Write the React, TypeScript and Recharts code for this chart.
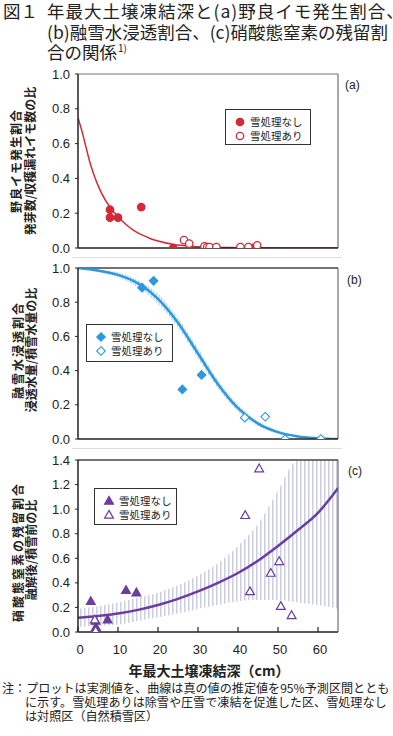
import React from "react"
import { Area, ComposedChart, Line, ReferenceLine, Scatter, XAxis, YAxis } from "recharts"

const jp = '"Noto Sans CJK JP", "Noto Sans", sans-serif'
const num = '"Liberation Sans", Arial, sans-serif'

const xTicks = [0, 10, 20, 30, 40, 50, 60]
const yTicksAB = [0, 0.2, 0.4, 0.6, 0.8, 1.0]
const yTicksC = [0, 0.2, 0.4, 0.6, 0.8, 1.0, 1.2, 1.4]

// (a) 野良イモ発生割合
const aNoneX = [8.0, 8.0, 10.0, 15.8, 23.8, 43.7]
const aNoneY = [0.22, 0.175, 0.175, 0.235, 0.0, 0.0]
const aTreatX = [26.5, 27.8, 31.6, 32.3, 32.9, 34.6, 40.6, 42.6, 44.8]
const aTreatY = [0.045, 0.025, 0.01, 0.005, 0.005, 0.005, 0.005, 0.005, 0.015]
const aCurveX = [0, 1, 2, 3, 4, 5, 6, 8, 10, 12, 14, 16, 18, 20, 24, 28, 32, 40, 50, 65]
const aCurveY = [0.75, 0.67, 0.58, 0.49, 0.42, 0.36, 0.31, 0.235, 0.18, 0.135, 0.1, 0.075, 0.055, 0.04, 0.02, 0.01, 0.005, 0.002, 0, 0]

// (b) 融雪水浸透割合
const bNoneX = [16.0, 18.9, 26.1, 30.9]
const bNoneY = [0.885, 0.925, 0.29, 0.375]
const bTreatX = [41.7, 46.8, 51.8, 60.7]
const bTreatY = [0.125, 0.13, 0.0, 0.0]
const bCurveX = [0, 5, 10, 15, 20, 25, 30, 35, 40, 45, 50, 55, 60, 65]
const bCurveY = [1.0, 0.985, 0.96, 0.91, 0.82, 0.68, 0.5, 0.32, 0.18, 0.09, 0.04, 0.015, 0.005, 0.0]
const bLow = [0.995, 0.975, 0.945, 0.885, 0.79, 0.65, 0.47, 0.295, 0.16, 0.075, 0.03, 0.008, 0.001, 0.0]
const bHigh = [1.0, 0.99, 0.975, 0.93, 0.85, 0.71, 0.53, 0.345, 0.2, 0.105, 0.05, 0.022, 0.009, 0.003]

// (c) 硝酸態窒素の残留割合
const cNoneX = [3.2, 4.4, 4.5, 7.4, 12.0, 14.6]
const cNoneY = [0.25, 0.09, 0.04, 0.1, 0.34, 0.32]
const cTreatX = [4.2, 4.4, 41.8, 43.0, 45.3, 48.2, 50.3, 50.7, 53.4]
const cTreatY = [0.1, 0.01, 0.95, 0.33, 1.33, 0.48, 0.575, 0.21, 0.135]
const cCurveX = [0, 5, 10, 15, 20, 25, 30, 35, 40, 45, 50, 55, 60, 65]
const cCurveY = [0.115, 0.13, 0.15, 0.18, 0.22, 0.27, 0.33, 0.4, 0.48, 0.58, 0.7, 0.83, 0.97, 1.17]
const cLow = [0.04, 0.05, 0.06, 0.09, 0.12, 0.15, 0.19, 0.22, 0.25, 0.26, 0.26, 0.24, 0.22, 0.19]
const cHigh = [0.19, 0.21, 0.24, 0.28, 0.32, 0.38, 0.46, 0.56, 0.7, 0.88, 1.15, 1.4, 1.4, 1.4]

const legendLabels = ["雪処理なし", "雪処理あり"]

const RED = "#d42a36"
const BLUE = "#2e98dc"
const PURPLE = "#6a3d9e"

const pts = (xs: number[], ys: number[]) => xs.map((x, i) => ({ x, y: ys[i] }))
const curve = (xs: number[], ys: number[], lo?: number[], hi?: number[]) =>
  xs.map((x, i) => ({ x, y: ys[i], band: lo && hi ? [lo[i], hi[i]] : undefined }))

type Kind = "circle" | "diamond" | "triangle"

function mark(kind: Kind, color: string, filled: boolean, cx: number, cy: number) {
  const fill = filled ? color : "#fff"
  if (kind === "circle") return <circle cx={cx} cy={cy} r={3.7} fill={fill} stroke={color} strokeWidth={1.3} />
  if (kind === "diamond")
    return (
      <polygon
        points={`${cx},${cy - 4.3} ${cx + 4.3},${cy} ${cx},${cy + 4.3} ${cx - 4.3},${cy}`}
        fill={fill}
        stroke={color}
        strokeWidth={1.1}
      />
    )
  return (
    <polygon
      points={`${cx},${cy - 4.6} ${cx + 4.4},${cy + 3.2} ${cx - 4.4},${cy + 3.2}`}
      fill={fill}
      stroke={color}
      strokeWidth={1.2}
    />
  )
}

const shape = (kind: Kind, color: string, filled: boolean) => (p: any) => mark(kind, color, filled, p.cx, p.cy)

function LegendBox({ left, top, w, h, kind, color }: { left: number; top: number; w: number; h: number; kind: Kind; color: string }) {
  return (
    <div style={{ position: "absolute", left, top, width: w, height: h, border: "1px solid #333", background: "#fff", boxSizing: "border-box" }}>
      {legendLabels.map((t, i) => (
        <div key={t} style={{ position: "absolute", left: 8, top: 5 + i * 14, height: 13, display: "flex", alignItems: "center" }}>
          <svg width={12} height={12} style={{ marginRight: 4 }}>
            {mark(kind, color, i === 0, 6, 6)}
          </svg>
          <span style={{ fontSize: 10.5, lineHeight: "13px", whiteSpace: "nowrap" }}>{t}</span>
        </div>
      ))}
    </div>
  )
}

function YTitle({ cx, cy, text, size = 12, spacing = 0 }: { cx: number; cy: number; text: string; size?: number; spacing?: number }) {
  return (
    <div
      style={{
        position: "absolute",
        left: cx,
        top: cy,
        transform: "translate(-50%, -50%) rotate(-90deg)",
        whiteSpace: "nowrap",
        fontSize: size,
        fontWeight: 700,
        letterSpacing: spacing,
        lineHeight: 1,
      }}
    >
      {text}
    </div>
  )
}

const yTick = { fill: "#222", fontSize: 13, fontFamily: num }
const axisLine = { stroke: "#222", strokeWidth: 1.5 }
const margin = { top: 10, right: 55, left: 8, bottom: 0 }

function Panel({
  top,
  height,
  xHeight,
  yMax,
  yTicks,
  data,
  none,
  treat,
  kind,
  color,
  lineW,
  pattern,
  bottomLabels,
  frameColor,
  frameW,
}: any) {
  return (
    <div style={{ position: "absolute", left: 0, top }}>
      <ComposedChart width={393} height={height} data={data} margin={margin}>
        <defs>
          <pattern id="hatchB" width={2.6} height={10} patternUnits="userSpaceOnUse">
            <line x1={0.6} y1={0} x2={0.6} y2={10} stroke="#9cc6ef" strokeWidth={1} />
          </pattern>
          <pattern id="hatchC" width={4} height={10} patternUnits="userSpaceOnUse">
            <line x1={0.8} y1={0} x2={0.8} y2={10} stroke="#c9c9de" strokeWidth={1.4} />
          </pattern>
        </defs>
        <XAxis
          dataKey="x"
          type="number"
          domain={[0, 65]}
          ticks={xTicks}
          interval={0}
          allowDataOverflow
          height={xHeight}
          tickSize={-5}
          tickMargin={bottomLabels ? 18 : 0}
          axisLine={axisLine}
          tickLine={{ stroke: "#222", strokeWidth: 1.2 }}
          tick={bottomLabels ? { ...yTick, dx: 2 } : false}
        />
        <YAxis
          dataKey="y"
          type="number"
          domain={[0, yMax]}
          ticks={yTicks}
          interval={0}
          allowDataOverflow
          width={70}
          tickSize={3}
          tickMargin={5}
          axisLine={axisLine}
          tickLine={{ stroke: "#222" }}
          tick={yTick}
          tickFormatter={(v: number) => v.toFixed(1)}
        />
        <ReferenceLine y={yMax} stroke={frameColor} strokeWidth={frameW} />
        <ReferenceLine x={65} stroke="#555" strokeWidth={1} />
        {pattern && (
          <Area
            dataKey="band"
            type="monotone"
            stroke="none"
            fill={`url(#${pattern})`}
            fillOpacity={1}
            isAnimationActive={false}
            activeDot={false}
          />
        )}
        <Line dataKey="y" type="monotone" stroke={color} strokeWidth={lineW} dot={false} isAnimationActive={false} />
        <Scatter data={none} shape={shape(kind, color, true)} isAnimationActive={false} />
        <Scatter data={treat} shape={shape(kind, color, false)} isAnimationActive={false} />
      </ComposedChart>
    </div>
  )
}

const titleStyle: React.CSSProperties = { position: "absolute", fontSize: 17.5, lineHeight: "20px", whiteSpace: "nowrap" }
const noteStyle: React.CSSProperties = { position: "absolute", fontSize: 12.1, lineHeight: "13px", whiteSpace: "nowrap" }

export default function App() {
  return (
    <div
      style={{
        position: "absolute",
        left: 0,
        top: 0,
        width: 393,
        height: 736,
        background: "#fff",
        overflow: "hidden",
        fontFamily: jp,
        color: "#222",
      }}
    >
      {/* title */}
      <div style={{ ...titleStyle, left: 3, top: 1 }}>図１</div>
      <div style={{ ...titleStyle, left: 47, top: 1, letterSpacing: 1 }}>年最大土壌凍結深と(a)野良イモ発生割合、</div>
      <div style={{ ...titleStyle, left: 47, top: 22 }}>(b)融雪水浸透割合、(c)硝酸態窒素の残留割</div>
      <div style={{ ...titleStyle, left: 47, top: 42 }}>合の関係</div>
      <div style={{ position: "absolute", left: 118, top: 42, fontSize: 10, lineHeight: "11px" }}>1)</div>

      <Panel
        top={64}
        height={194}
        xHeight={10}
        yMax={1}
        yTicks={yTicksAB}
        data={curve(aCurveX, aCurveY)}
        none={pts(aNoneX, aNoneY)}
        treat={pts(aTreatX, aTreatY)}
        kind="circle"
        color={RED}
        lineW={1.5}
        frameColor="#777"
        frameW={1}
      />
      <Panel
        top={258}
        height={191}
        xHeight={10}
        yMax={1}
        yTicks={yTicksAB}
        data={curve(bCurveX, bCurveY, bLow, bHigh)}
        none={pts(bNoneX, bNoneY)}
        treat={pts(bTreatX, bTreatY)}
        kind="diamond"
        color={BLUE}
        lineW={2.5}
        pattern="hatchB"
        frameColor="#444"
        frameW={1.5}
      />
      <Panel
        top={450}
        height={212}
        xHeight={30}
        yMax={1.4}
        yTicks={yTicksC}
        data={curve(cCurveX, cCurveY, cLow, cHigh)}
        none={pts(cNoneX, cNoneY)}
        treat={pts(cTreatX, cTreatY)}
        kind="triangle"
        color={PURPLE}
        lineW={2.5}
        pattern="hatchC"
        bottomLabels
        frameColor="#444"
        frameW={1.5}
      />

      {/* panel separators */}
      <div style={{ position: "absolute", left: 72, top: 257, width: 270, height: 1, background: "#ddd" }} />
      <div style={{ position: "absolute", left: 72, top: 448, width: 270, height: 1, background: "#ddd" }} />

      {/* panel tags */}
      <div style={{ position: "absolute", left: 345, top: 78, fontSize: 12, fontFamily: num }}>(a)</div>
      <div style={{ position: "absolute", left: 347, top: 273, fontSize: 12, fontFamily: num }}>(b)</div>
      <div style={{ position: "absolute", left: 348, top: 464, fontSize: 12, fontFamily: num }}>(c)</div>

      {/* legends */}
      <LegendBox left={225} top={109} w={86} h={36} kind="circle" color={RED} />
      <LegendBox left={86} top={324} w={87} h={38} kind="diamond" color={BLUE} />
      <LegendBox left={94} top={488} w={83} h={37} kind="triangle" color={PURPLE} />

      {/* y titles */}
      <YTitle cx={16} cy={161} text="野良イモ発生割合" spacing={1} />
      <YTitle cx={30} cy={161} text="発芽数/収穫漏れイモ数の比" />
      <YTitle cx={18} cy={350} text="融雪水浸透割合" spacing={2} />
      <YTitle cx={31} cy={350} text="浸透水量/積雪水量の比" />
      <YTitle cx={18} cy={552} text="硝酸態窒素の残留割合" spacing={2} />
      <YTitle cx={31} cy={550} text="融解後/積雪前の比" />

      {/* x title */}
      <div
        style={{
          position: "absolute",
          left: 209,
          top: 663,
          transform: "translateX(-50%)",
          fontSize: 14,
          fontWeight: 700,
          lineHeight: "15px",
          whiteSpace: "nowrap",
        }}
      >
        年最大土壌凍結深（cm）
      </div>

      {/* note */}
      <div style={{ ...noteStyle, left: 2, top: 681 }}>注：プロットは実測値を、曲線は真の値の推定値を95%予測区間ととも</div>
      <div style={{ ...noteStyle, left: 25, top: 695 }}>に示す。雪処理ありは除雪や圧雪で凍結を促進した区、雪処理なし</div>
      <div style={{ ...noteStyle, left: 25, top: 709 }}>は対照区（自然積雪区）</div>
    </div>
  )
}
